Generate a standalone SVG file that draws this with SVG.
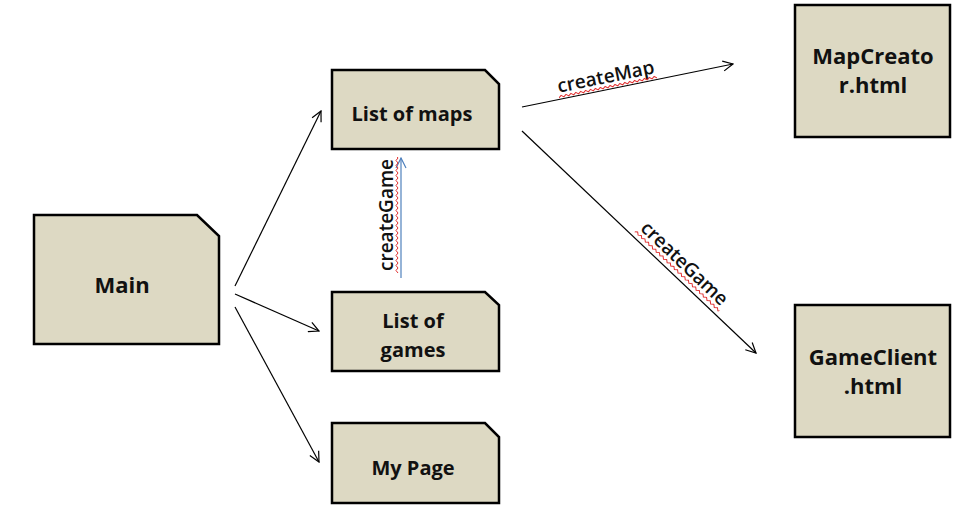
<svg xmlns="http://www.w3.org/2000/svg" width="958" height="509" viewBox="0 0 958 509">
<style>
.node{fill:#ddd9c3;stroke:#000;stroke-width:2.5;stroke-linejoin:miter}
.t{font-family:"Open Sans","Noto Sans","Liberation Sans",sans-serif;font-weight:bold;fill:#111;text-anchor:middle}
.big{font-size:22px}
.mid{font-size:20px}
.lbl{font-family:"Open Sans","Noto Sans","Liberation Sans",sans-serif;font-size:19px;font-weight:600;fill:#111;text-anchor:middle}
.c{fill:none;stroke:#000;stroke-width:1.2}
.sq{fill:none;stroke:#e03030;stroke-width:1}
</style>
<defs>
<marker id="ah" viewBox="0 0 12 12" refX="11" refY="6" markerWidth="12" markerHeight="12" markerUnits="userSpaceOnUse" orient="auto">
<path d="M1,1 L11,6 L1,11" fill="none" stroke="#000" stroke-width="1.2"/>
</marker>
<marker id="ahb" viewBox="0 0 12 12" refX="11" refY="6" markerWidth="12" markerHeight="12" markerUnits="userSpaceOnUse" orient="auto">
<path d="M1,1 L11,6 L1,11" fill="none" stroke="#4f81bd" stroke-width="1.2"/>
</marker>
<path id="wave" class="sq" d="M0,0 l2.5,-2 l2.5,2 l2.5,-2 l2.5,2 l2.5,-2 l2.5,2 l2.5,-2 l2.5,2 l2.5,-2 l2.5,2 l2.5,-2 l2.5,2 l2.5,-2 l2.5,2 l2.5,-2 l2.5,2 l2.5,-2 l2.5,2 l2.5,-2 l2.5,2 l2.5,-2 l2.5,2 l2.5,-2 l2.5,2 l2.5,-2 l2.5,2 l2.5,-2 l2.5,2 l2.5,-2 l2.5,2 l2.5,-2 l2.5,2 l2.5,-2 l2.5,2 l2.5,-2 l2.5,2 l2.5,-2 l2.5,2 l2.5,-2 l2.5,2 l2.5,-2 l2.5,2 l2.5,-2 l2.5,2 l2.5,-2 l2.5,2 l2.5,-2 l2.5,2"/>
</defs>
<rect width="958" height="509" fill="#fff"/>
<g id="connectors">
<line class="c" x1="235" y1="286" x2="321" y2="111" marker-end="url(#ah)"/>
<line class="c" x1="235" y1="294" x2="319" y2="331" marker-end="url(#ah)"/>
<line class="c" x1="235" y1="307" x2="319" y2="462" marker-end="url(#ah)"/>
<line class="c" x1="522" y1="107" x2="733" y2="64" marker-end="url(#ah)"/>
<line class="c" x1="522" y1="131" x2="756" y2="353" marker-end="url(#ah)"/>
<line x1="401" y1="278" x2="401" y2="158" fill="none" stroke="#4f81bd" stroke-width="1.2" marker-end="url(#ahb)"/>
<g transform="translate(607,83) rotate(-11.5)">
<text class="lbl" x="0" y="0">createMap</text>
<svg x="-50" y="2" width="100" height="6" viewBox="0 -3 100 6" overflow="hidden"><use href="#wave"/></svg>
</g>
<g transform="translate(680,268) rotate(43.5)">
<text class="lbl" x="0" y="0">createGame</text>
<svg x="-58" y="2" width="116" height="6" viewBox="0 -3 116 6" overflow="hidden"><use href="#wave"/></svg>
</g>
<g transform="translate(393,215) rotate(-90)">
<text class="lbl" x="0" y="0">createGame</text>
<svg x="-58" y="2" width="116" height="6" viewBox="0 -3 116 6" overflow="hidden"><use href="#wave"/></svg>
</g>
</g>
<g id="main">
<path class="node" d="M34,215 H197 L219,236 V344 H34 Z"/>
<text class="t big" x="122" y="293">Main</text>
</g>
<g id="listmaps">
<path class="node" d="M332,70 H485 L499,84 V149 H332 Z"/>
<text class="t mid" x="412" y="121">List of maps</text>
</g>
<g id="listgames">
<path class="node" d="M332,292 H485 L499,305 V371 H332 Z"/>
<text class="t mid" x="413" y="328">List of</text>
<text class="t mid" x="413" y="357">games</text>
</g>
<g id="mypage">
<path class="node" d="M332,423 H485 L499,437 V503 H332 Z"/>
<text class="t mid" x="413" y="475">My Page</text>
</g>
<g id="mapcreator">
<rect class="node" x="795" y="5" width="155" height="132"/>
<text class="t big" x="873" y="64">MapCreato</text>
<text class="t big" x="873" y="93">r.html</text>
</g>
<g id="gameclient">
<rect class="node" x="795" y="305" width="155" height="132"/>
<text class="t big" x="873" y="365">GameClient</text>
<text class="t big" x="873" y="394">.html</text>
</g>
</svg>
